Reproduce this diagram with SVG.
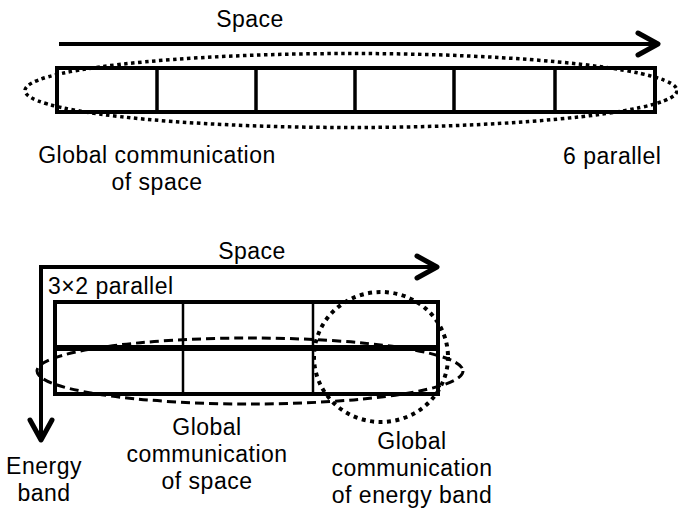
<svg xmlns="http://www.w3.org/2000/svg" width="678" height="509" viewBox="0 0 678 509">
  <style>
    text { font-family: "Liberation Sans", Arial, sans-serif; font-size: 23px; letter-spacing: 0.5px; fill: #000; }
    .mid { text-anchor: middle; }
    .box { fill: none; stroke: #000; stroke-width: 4; }
    .cell { fill: none; stroke: #000; stroke-width: 3.5; }
    .thin { fill: none; stroke: #000; stroke-width: 2.5; }
    .axis { fill: none; stroke: #000; stroke-width: 4; }
    .head { fill: none; stroke: #000; stroke-width: 5; stroke-linecap: round; stroke-linejoin: round; }
    .dotted { fill: none; stroke: #000; stroke-width: 3.5; stroke-dasharray: 3.5 3.5; }
    .dashed { fill: none; stroke: #000; stroke-width: 3; stroke-dasharray: 9 5; }
    .dots { fill: none; stroke: #000; stroke-width: 4; stroke-dasharray: 4 4.5; }
  </style>
  <rect width="678" height="509" fill="#fff"/>

  <!-- upper layout: 6 parallel -->
  <g id="space-axis-1">
    <line class="axis" x1="59" y1="44" x2="656" y2="44"/>
    <polyline class="head" points="638,33 658,44 638,55"/>
    <text class="mid" x="250" y="27">Space</text>
  </g>
  <g id="row-6">
    <rect class="box" x="57" y="68" width="598" height="44"/>
    <line class="cell" x1="157" y1="68" x2="157" y2="112"/>
    <line class="cell" x1="256" y1="68" x2="256" y2="112"/>
    <line class="cell" x1="355" y1="68" x2="355" y2="112"/>
    <line class="cell" x1="454" y1="68" x2="454" y2="112"/>
    <line class="cell" x1="555" y1="68" x2="555" y2="112"/>
  </g>
  <g id="global-space-1">
    <ellipse class="dotted" cx="351" cy="90.5" rx="326" ry="37"/>
    <text class="mid" x="157" y="163">Global communication</text>
    <text class="mid" x="157" y="190">of space</text>
  </g>
  <g id="label-6">
    <text x="563" y="164">6 parallel</text>
  </g>

  <!-- lower layout: 3x2 parallel -->
  <g id="axes-2">
    <polyline class="axis" points="437,267 41,267 41,438"/>
    <polyline class="head" points="417,256 437,267 417,278"/>
    <polyline class="head" points="30,420 41,440 52,420"/>
    <text class="mid" x="252" y="259">Space</text>
    <text class="mid" x="44" y="474">Energy</text>
    <text class="mid" x="44" y="501">band</text>
  </g>
  <g id="grid-3x2">
    <rect class="box" x="55" y="302" width="383" height="92"/>
    <line class="axis" x1="55" y1="348" x2="438" y2="348" style="stroke-width:6"/>
    <line class="thin" x1="183" y1="302" x2="183" y2="394"/>
    <line class="thin" x1="313" y1="302" x2="313" y2="394"/>
    <text x="48" y="294">3×2 parallel</text>
  </g>
  <g id="global-space-2">
    <ellipse class="dashed" cx="250" cy="371" rx="213" ry="33"/>
    <text class="mid" x="207" y="435">Global</text>
    <text class="mid" x="207" y="462">communication</text>
    <text class="mid" x="207" y="489">of space</text>
  </g>
  <g id="global-energy">
    <ellipse class="dots" cx="381" cy="357" rx="67" ry="65"/>
    <text class="mid" x="412" y="449">Global</text>
    <text class="mid" x="412" y="476">communication</text>
    <text class="mid" x="412" y="503">of energy band</text>
  </g>
</svg>
